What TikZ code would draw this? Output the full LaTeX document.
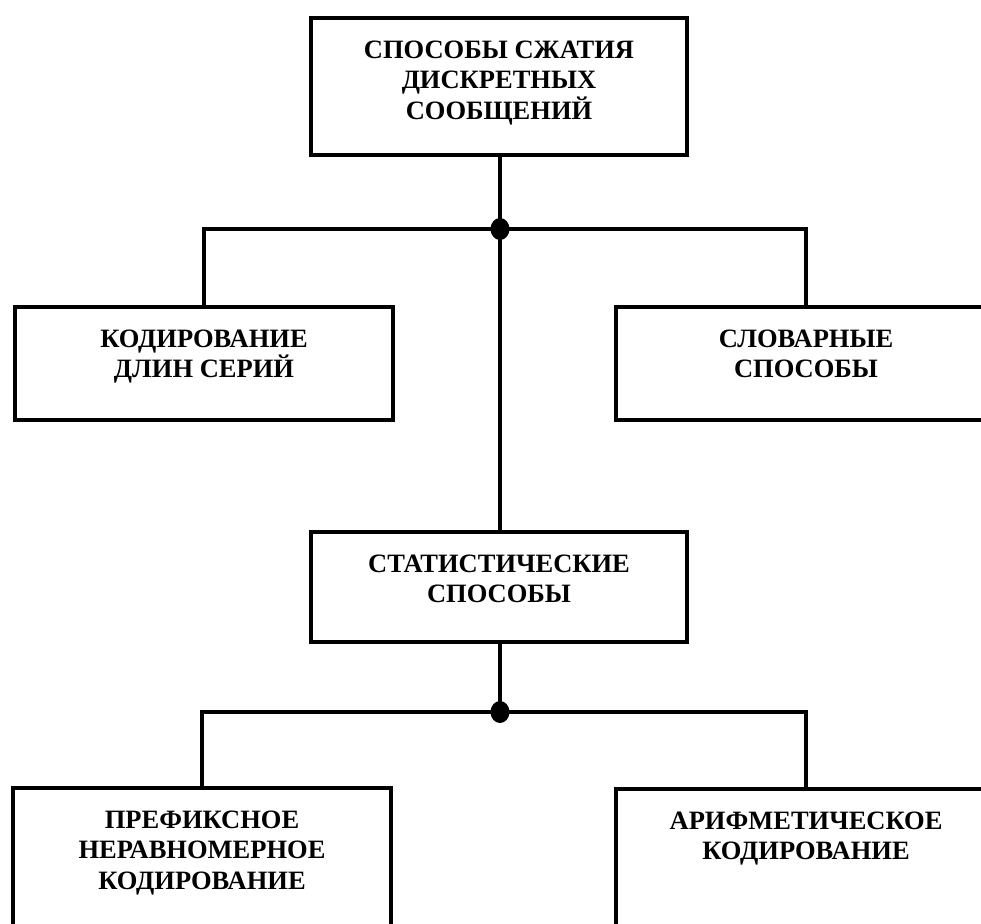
\documentclass[tikz,border=0pt]{standalone}
\usepackage{fontspec}
\setmainfont{Liberation Serif}
\usetikzlibrary{calc}

\tikzset{
  box/.style={draw, line width=4pt, rectangle, inner sep=0pt},
  boxtext/.style={anchor=north, inner sep=0pt, align=center,
    font=\fontsize{26.5}{30.5}\selectfont\bfseries, yshift=-18pt},
  wire/.style={line width=4pt},
  junction/.style={fill=black}
}
% first-line strut so every label starts at the same depth below its box top
\newcommand{\firstline}{\rule{0pt}{24pt}}

\begin{document}
\begin{tikzpicture}[x=1pt, y=-1pt]
  \useasboundingbox (0,0) rectangle (981,923);
  \clip (0,0) rectangle (981,923);

  % boxes
  \node[box, minimum width=376pt, minimum height=137pt] (top)   at (499,86.5) {};
  \node[box, minimum width=378pt, minimum height=113pt] (rle)   at (204,363.5) {};
  \node[box, minimum width=380pt, minimum height=113pt] (dict)  at (806,363.5) {};
  \node[box, minimum width=376pt, minimum height=110pt] (stat)  at (499,587) {};
  \node[box, minimum width=378pt, minimum height=200pt] (pref)  at (202,888) {};
  \node[box, minimum width=380pt, minimum height=200pt] (arith) at (806,889) {};

  % labels
  \node[boxtext] (topT)   at (top.north)   {\firstline СПОСОБЫ СЖАТИЯ\\ДИСКРЕТНЫХ\\СООБЩЕНИЙ};
  \node[boxtext] (rleT)   at (rle.north)   {\firstline КОДИРОВАНИЕ\\ДЛИН СЕРИЙ};
  \node[boxtext] (dictT)  at (dict.north)  {\firstline СЛОВАРНЫЕ\\СПОСОБЫ};
  \node[boxtext] (statT)  at (stat.north)  {\firstline СТАТИСТИЧЕСКИЕ\\СПОСОБЫ};
  \node[boxtext] (prefT)  at (pref.north)  {\firstline ПРЕФИКСНОЕ\\НЕРАВНОМЕРНОЕ\\КОДИРОВАНИЕ};
  \node[boxtext] (arithT) at (arith.north) {\firstline АРИФМЕТИЧЕСКОЕ\\КОДИРОВАНИЕ};

  % junction points
  \coordinate (j1) at (500,229);
  \coordinate (j2) at (500,712);

  % connectors
  \draw[wire] (top.south -| j1) -- (j1);
  \draw[wire] (j1) -- (stat.north -| j1);
  \draw[wire] (j1) -| (rle.north);
  \draw[wire] (j1) -| (dict.north);
  \draw[wire] (stat.south -| j2) -- (j2);
  \draw[wire] (j2) -| (pref.north);
  \draw[wire] (j2) -| (arith.north);

  % junction dots
  \fill[junction] (j1) ellipse [x radius=9.5pt, y radius=11pt];
  \fill[junction] (j2) ellipse [x radius=9.5pt, y radius=11pt];
\end{tikzpicture}
\end{document}
